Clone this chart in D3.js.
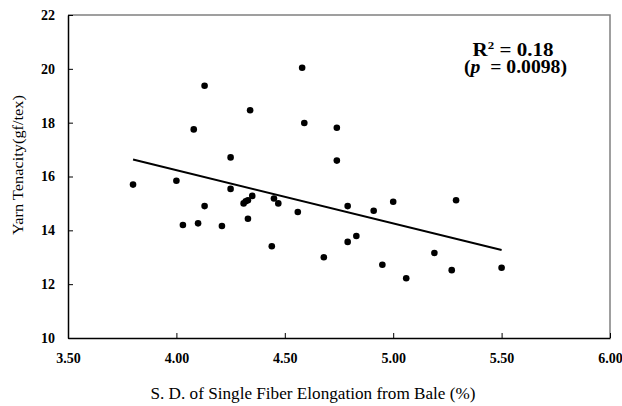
<!DOCTYPE html>
<html>
<head>
<meta charset="utf-8">
<title>yarn tenacity vs elongation sd</title>
<script src="https://cdn.jsdelivr.net/npm/d3@7"></script>
<style>
  body{margin:0;background:#fff;}
</style>
</head>
<body>
<div id="container"></div>
<script>
  // points
  var xVals = [3.80,4.00,4.03,4.10,4.08,4.13,4.13,4.21,4.25,4.25,4.31,4.32,4.33,4.35,4.33,4.34,4.44,4.45,4.47,4.56,4.58,4.59,4.68,4.74,4.74,4.79,4.79,4.83,4.91,4.95,5.00,5.06,5.19,5.27,5.29,5.50];
  var yVals = [15.70,15.84,14.20,14.26,17.75,19.37,14.90,14.16,16.71,15.54,15.00,15.08,15.12,15.28,14.43,18.46,13.41,15.18,15.00,14.68,20.04,17.99,13.00,17.81,16.59,14.90,13.57,13.79,14.73,12.72,15.06,12.22,13.16,12.52,15.12,12.61];
  // fitted line end points
  var trendX = [3.80,5.50];
  var trendY = [16.63,13.27];
  var xTicks = [3.5,4.0,4.5,5.0,5.5,6.0];
  var yTicks = [10,12,14,16,18,20,22];

  var W = 622, H = 406;
  var pL = 68, pR = 610, pT = 15, pB = 338;
  var serif = "'Liberation Serif','Times New Roman',serif";

  var svg = d3.select("#container").append("svg")
      .attr("width", W)
      .attr("height", H);

  var xScale = d3.scaleLinear().domain([3.5,6]).range([pL,pR]);
  var yScale = d3.scaleLinear().domain([10,22]).range([pB,pT]);

  // frame top/right (grey)
  svg.append("path")
    .attr("d","M"+pL+","+pT+"H"+pR+"V"+pB)
    .attr("fill","none")
    .attr("stroke","#808080")
    .attr("stroke-width",1.5);

  var xAxis = d3.axisBottom(xScale).tickValues(xTicks)
    .tickFormat(d3.format(".2f")).tickSizeInner(-5).tickSizeOuter(0).tickPadding(15);
  var yAxis = d3.axisLeft(yScale).tickValues(yTicks)
    .tickFormat(d3.format("d")).tickSizeInner(-5).tickSizeOuter(0).tickPadding(13);

  svg.append("g").attr("transform","translate(0,"+pB+")").call(xAxis);
  svg.append("g").attr("transform","translate("+pL+",0)").call(yAxis);

  d3.selectAll(".domain").attr("stroke","#000").attr("stroke-width",1.5);
  d3.selectAll(".tick line").attr("stroke","#000").attr("stroke-width",1);
  d3.selectAll(".tick text")
    .style("font-family",serif)
    .style("font-weight","bold")
    .style("font-size","14px")
    .attr("fill","#000");

  // regression line
  var line = d3.line().x(function(d){return xScale(d[0]);}).y(function(d){return yScale(d[1]);});
  svg.append("path")
    .datum(d3.zip(trendX,trendY))
    .attr("d",line)
    .attr("fill","none")
    .attr("stroke","#000")
    .attr("stroke-width",2);

  svg.selectAll("circle.pt")
    .data(d3.zip(xVals,yVals))
    .enter().append("circle")
    .attr("class","pt")
    .attr("cx",function(d){return xScale(d[0]);})
    .attr("cy",function(d){return yScale(d[1]);})
    .attr("r",3.3)
    .attr("fill","#000");

  // annotation
  var ann = svg.append("text")
    .attr("x",513).attr("y",56)
    .attr("text-anchor","middle")
    .attr("textLength",81).attr("lengthAdjust","spacingAndGlyphs")
    .style("font-family",serif)
    .style("font-weight","bold").style("font-size","18px");
  ann.append("tspan").text("R");
  ann.append("tspan").attr("dy",-7).style("font-size","11px").text("2");
  ann.append("tspan").attr("dy",7).text(" = 0.18");

  var ann2 = svg.append("text")
    .attr("x",515.5).attr("y",72.5)
    .attr("text-anchor","middle")
    .attr("textLength",103).attr("lengthAdjust","spacingAndGlyphs")
    .style("font-family",serif)
    .style("font-weight","bold").style("font-size","18px");
  ann2.append("tspan").text("(");
  ann2.append("tspan").style("font-style","italic").text("p");
  ann2.append("tspan").text("\u00a0 = 0.0098)");

  // axis titles
  svg.append("text")
    .attr("x",313).attr("y",399)
    .attr("text-anchor","middle")
    .attr("textLength",325).attr("lengthAdjust","spacingAndGlyphs")
    .style("font-family",serif)
    .style("font-size","16px")
    .text("S. D. of Single Fiber Elongation from Bale (%)");

  svg.append("text")
    .attr("transform","translate(23,165) rotate(-90)")
    .attr("text-anchor","middle")
    .attr("textLength",140).attr("lengthAdjust","spacingAndGlyphs")
    .style("font-family",serif)
    .style("font-size","15px")
    .text("Yarn Tenacity(gf/tex)");
</script>
</body>
</html>
